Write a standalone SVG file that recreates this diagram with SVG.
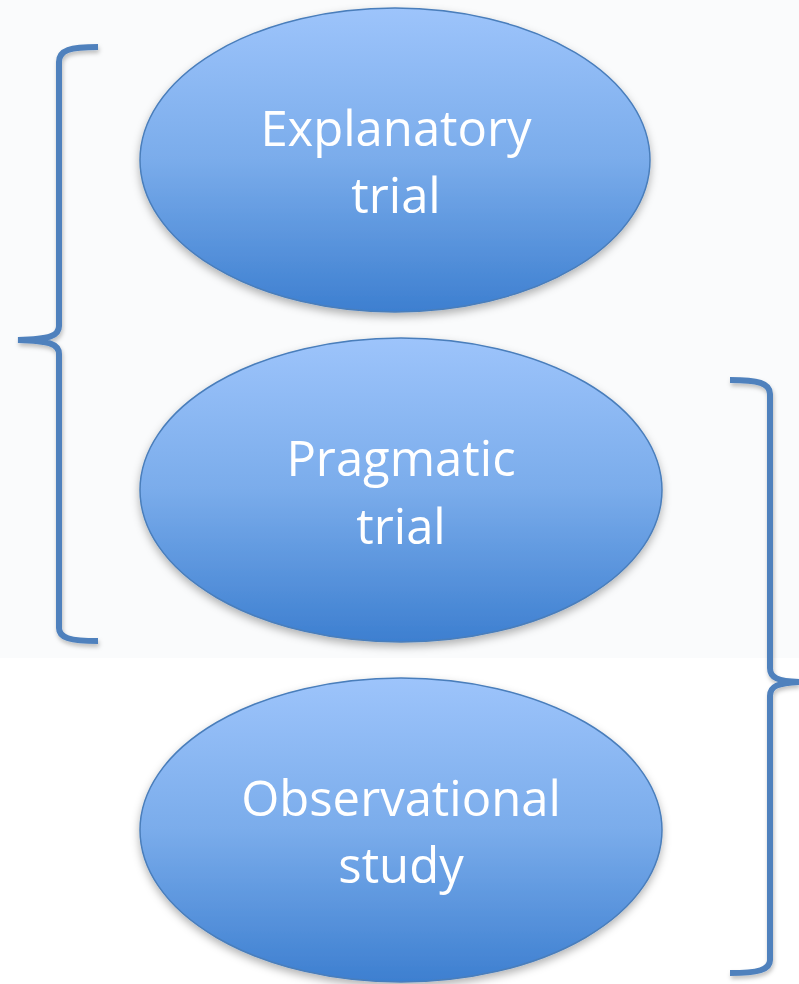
<svg xmlns="http://www.w3.org/2000/svg" width="799" height="984" viewBox="0 0 799 984">
<style>
.node ellipse{fill:url(#g);stroke:#4a7ebb;stroke-width:1.5;filter:url(#sh)}
.node text{font-family:"Open Sans","Liberation Sans",sans-serif;font-size:49px;fill:#ffffff;text-anchor:middle}
.brace{fill:none;stroke:#4f81bd;stroke-width:6;stroke-linecap:butt;filter:url(#sh2)}
</style>
<defs>
<linearGradient id="g" x1="0" y1="0" x2="0" y2="1">
<stop offset="0" stop-color="#9dc4fb"/>
<stop offset="0.5" stop-color="#7aaceb"/>
<stop offset="1" stop-color="#3d7fd0"/>
</linearGradient>
<filter id="sh" x="-10%" y="-10%" width="120%" height="130%">
<feDropShadow dx="0" dy="4" stdDeviation="4" flood-color="#000" flood-opacity="0.3"/>
</filter>
<filter id="sh2" x="-50%" y="-10%" width="200%" height="120%">
<feDropShadow dx="1" dy="3" stdDeviation="2" flood-color="#000" flood-opacity="0.25"/>
</filter>
</defs>
<rect x="0" y="0" width="799" height="984" fill="#ffffff"/>
<rect x="0" y="0" width="799" height="658" fill="#fafbfc"/>
<g id="connectors">
<path class="brace" d="M98,47 C70,47 59,50 59,62 L59,326 C59,336 50,339 18,340 C50,341 59,344 59,354 L59,628 C59,638 70,641 98,641"/>
<path class="brace" d="M730,380 C758,380 770,383 770,394 L770,668 C770,678 778,681 799,682 C778,683 770,686 770,696 L770,960 C770,970 758,973 730,973"/>
</g>
<g id="explanatory" class="node">
<ellipse cx="395" cy="160" rx="255" ry="152"/>
<text x="396" y="146">Explanatory</text>
<text x="396" y="213">trial</text>
</g>
<g id="pragmatic" class="node">
<ellipse cx="401" cy="490" rx="261" ry="152"/>
<text x="401" y="476">Pragmatic</text>
<text x="401" y="544">trial</text>
</g>
<g id="observational" class="node">
<ellipse cx="401" cy="830" rx="261" ry="152"/>
<text x="401" y="816">Observational</text>
<text x="401" y="883">study</text>
</g>
</svg>
